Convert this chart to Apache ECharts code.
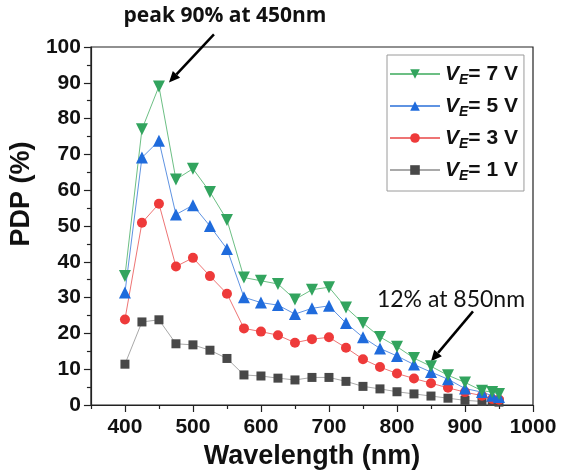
<!DOCTYPE html>
<html>
<head>
	<meta charset="utf-8" />
	<title>PDP vs wavelength</title>
	<style>
		* { padding: 0; margin: 0; }
		body { background: #fff; }
	</style>
</head>
<body>
	<div id="main" style="width:569px;height:475px;"></div>
<script src="https://cdn.jsdelivr.net/npm/echarts@6/dist/echarts.min.js"></script>
<script type="text/javascript">
	// wavelength (nm)
	var wavelengths = [400, 425, 450, 475, 500, 525, 550, 575, 600, 625, 650, 675, 700, 725, 750, 775, 800, 825, 850, 875, 900, 925, 940, 950];
	// PDP (%) per excess voltage
	var pdp7 = [36, 77, 89, 63, 66, 59.5, 51.7, 35.6, 34.7, 33.8, 29.5, 32.2, 32.9, 27.2, 22.9, 19, 16.3, 13.1, 10.8, 8.3, 6.3, 4, 3.6, 3.1];
	var pdp5 = [31.4, 69.1, 73.8, 53.2, 55.8, 50, 43.6, 30.1, 28.6, 27.9, 25.4, 27, 27.7, 22.9, 18.9, 15.8, 13.7, 11.3, 9.2, 7.2, 4.6, 3.6, 2.6, 2.2];
	var pdp3 = [23.9, 50.9, 56.2, 38.7, 41.1, 36, 31.1, 21.4, 20.5, 19.5, 17.4, 18.4, 18.9, 16, 12.8, 10.6, 8.8, 7.4, 6.1, 4.8, 3.6, 2.6, 1.7, 1.5];
	var pdp1 = [11.4, 23.2, 23.8, 17.1, 16.8, 15.3, 13, 8.4, 8.1, 7.5, 7, 7.7, 7.7, 6.6, 5.2, 4.5, 3.7, 3.1, 2.5, 1.9, 1.3, 1, 1, 0.8];
	var seriesNames = ['7 V', '5 V', '3 V', '1 V'];
	var xLabelTicks = [400, 500, 600, 700, 800, 900, 1000];
	var xMinorTicks = [350, 450, 550, 650, 750, 850, 950];

	function pairs(ys) {
		return wavelengths.map(function (w, i) { return [w, ys[i]]; });
	}

	var chart = echarts.init(document.getElementById('main'));
	var axisFont = 'Liberation Sans, Arial, sans-serif';

	function makeSeries(name, ys, symbol, size, mark, line, rotate) {
		return {
			name: name,
			type: 'line',
			data: pairs(ys),
			symbol: symbol,
			symbolSize: size,
			symbolRotate: rotate || 0,
			showAllSymbol: true,
			itemStyle: { color: mark },
			lineStyle: { color: line, width: 1 },
			emphasis: { disabled: true },
			animation: false
		};
	}

	var option = {
		backgroundColor: '#fff',
		grid: { left: 90, right: 36, top: 47, bottom: 62, show: true, borderColor: '#222', borderWidth: 1.2 },
		legend: {
			orient: 'vertical',
			left: 387,
			top: 55,
			data: seriesNames,
			itemWidth: 50,
			itemHeight: 12,
			itemGap: 6,
			padding: [6, 6, 8, 2],
			borderColor: '#9a9a9a',
			borderWidth: 1,
			formatter: function (name) {
				return '{v|V}{e|E}{t|= ' + name + '}';
			},
			textStyle: {
				fontFamily: axisFont,
				rich: {
					v: { fontSize: 21, fontWeight: 'bold', fontStyle: 'italic', color: '#111', fontFamily: axisFont, lineHeight: 26 },
					e: { fontSize: 14, fontWeight: 'bold', fontStyle: 'italic', color: '#111', fontFamily: axisFont, padding: [12, 0, 0, 0], lineHeight: 26 },
					t: { fontSize: 21, fontWeight: 'bold', color: '#111', fontFamily: axisFont, lineHeight: 26 }
				}
			}
		},
		xAxis: [{
			type: 'value',
			min: 350,
			max: 1000,
			name: 'Wavelength (nm)',
			nameLocation: 'middle',
			nameGap: 38,
			nameTextStyle: { fontSize: 27, fontWeight: 'bold', color: '#111', fontFamily: axisFont },
			splitLine: { show: false },
			axisLine: { onZero: false, lineStyle: { color: '#222', width: 1.2 } },
			axisTick: { inside: false, length: 7, customValues: xLabelTicks, lineStyle: { color: '#222', width: 1.2 } },
			axisLabel: {
				customValues: xLabelTicks, margin: 12, fontSize: 21, fontWeight: 'bold', color: '#111', fontFamily: axisFont,
				formatter: function (v) { return String(v); }
			}
		}, {
			type: 'value',
			min: 350,
			max: 1000,
			position: 'bottom',
			splitLine: { show: false },
			axisLine: { show: false },
			axisTick: { length: 4, customValues: xMinorTicks, lineStyle: { color: '#222', width: 1.2 } },
			axisLabel: { show: false }
		}],
		yAxis: {
			type: 'value',
			min: 0,
			max: 100,
			interval: 10,
			name: 'PDP (%)',
			nameLocation: 'middle',
			nameGap: 52,
			nameTextStyle: { fontSize: 27, fontWeight: 'bold', color: '#111', fontFamily: axisFont, padding: [0, 0, 0, 64] },
			splitLine: { show: false },
			axisLine: { show: true, lineStyle: { color: '#222', width: 1.2 } },
			axisTick: { show: true, length: 7, lineStyle: { color: '#222', width: 1.2 } },
			minorTick: { show: true, splitNumber: 2, length: 4, lineStyle: { color: '#222', width: 1.2 } },
			axisLabel: { margin: 10, fontSize: 21, fontWeight: 'bold', color: '#111', fontFamily: axisFont }
		},
		series: [
			makeSeries('1 V', pdp1, 'rect', 9, '#484848', '#a9a9a9'),
			makeSeries('3 V', pdp3, 'circle', 10, '#ee3a3a', '#ee7474'),
			makeSeries('5 V', pdp5, 'triangle', 12, '#1f6bdc', '#5f93e2'),
			makeSeries('7 V', pdp7, 'triangle', 12, '#32a45e', '#6cbf84', 180)
		]
	};
	chart.setOption(option);

	// annotation arrows anchored to data points
	function arrow(tail, tip) {
		var dx = tip[0] - tail[0], dy = tip[1] - tail[1];
		var len = Math.sqrt(dx * dx + dy * dy);
		var ux = dx / len, uy = dy / len;
		var hl = 11, hw = 5;
		var bx = tip[0] - ux * hl, by = tip[1] - uy * hl;
		return [{
			type: 'line',
			shape: { x1: tail[0], y1: tail[1], x2: bx, y2: by },
			style: { stroke: '#000', lineWidth: 2.5 }
		}, {
			type: 'polygon',
			shape: { points: [tip, [bx - uy * hw, by + ux * hw], [bx + uy * hw, by - ux * hw]] },
			style: { fill: '#000' }
		}];
	}
	var peak = chart.convertToPixel({ gridIndex: 0 }, [450, 89]);
	var nir = chart.convertToPixel({ gridIndex: 0 }, [850, 10.8]);
	var tip1 = [peak[0] + 10, peak[1] - 4];
	var tip2 = [nir[0], nir[1] - 5];
	chart.setOption({
		graphic: [].concat(
			arrow([tip1[0] + 45, tip1[1] - 48], tip1),
			arrow([tip2[0] + 42, tip2[1] - 50], tip2),
			[{
				type: 'text',
				x: 225, y: 16,
				style: { text: 'peak 90% at 450nm', fontSize: 21, fontWeight: 'bold', fontFamily: 'Open Sans, sans-serif', fill: '#111', align: 'center', verticalAlign: 'middle' }
			}, {
				type: 'text',
				x: 451, y: 300,
				style: { text: '12% at 850nm', fontSize: 23, fontFamily: 'Lato, sans-serif', fill: '#111', align: 'center', verticalAlign: 'middle' }
			}]
		)
	});
</script>
</body>
</html>
